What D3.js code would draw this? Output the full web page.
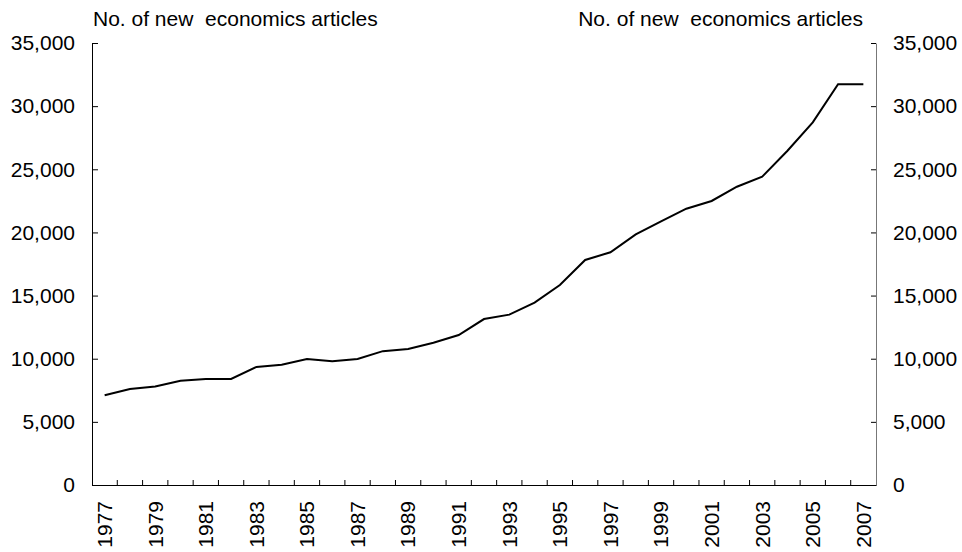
<!DOCTYPE html>
<html>
<head>
<meta charset="utf-8">
<script src="https://cdn.jsdelivr.net/npm/d3@7"></script>
<style>
  body { margin: 0; background: #fff; }
  text { font-family: "Liberation Sans", Arial, sans-serif; }
</style>
</head>
<body>
<div id="chart"></div>
<script>
var width = 962, height = 552;
var margin = {top: 43, right: 86, bottom: 67, left: 92};
var fontSize = "21px";

var years = d3.range(1977, 2008);
var articles = [7100, 7600, 7800, 8250, 8400, 8400, 9350, 9530, 9980, 9790,
                9980, 10600, 10770, 11270, 11880, 13140, 13490, 14440, 15840, 17820,
                18430, 19850, 20880, 21880, 22490, 23620, 24410, 26470, 28720, 31730,
                31730];
var yTicks = [0, 5000, 10000, 15000, 20000, 25000, 30000, 35000];
var axisTitle = "No. of new  economics articles";

var data = years.map(function(y, i){ return {year: y, value: articles[i]}; });

var svg = d3.select("#chart").append("svg")
  .attr("width", width)
  .attr("height", height);

var x = d3.scaleBand()
  .domain(years)
  .range([margin.left, width - margin.right]);

var y = d3.scaleLinear()
  .domain([0, 35000])
  .range([height - margin.bottom, margin.top]);

var fmt = d3.format(",");

// left axis, ticks point inward
var yLeft = svg.append("g")
  .attr("transform", "translate(" + margin.left + ",0)")
  .call(d3.axisLeft(y).tickValues(yTicks).tickFormat(fmt)
    .tickSizeInner(-6).tickSizeOuter(0).tickPadding(17));

// right axis
var yRight = svg.append("g")
  .attr("transform", "translate(" + (width - margin.right) + ",0)")
  .call(d3.axisRight(y).tickValues(yTicks).tickFormat(fmt)
    .tickSizeInner(-5).tickSizeOuter(0).tickPadding(17));
yRight.select(".domain").attr("stroke", "#777");

[yLeft, yRight].forEach(function(g){
  g.selectAll("text").attr("font-size", fontSize).attr("fill", "#000")
    .attr("font-family", "Liberation Sans, Arial, sans-serif");
});

// bottom axis: labels every other year
var xAxis = svg.append("g")
  .attr("transform", "translate(0," + (height - margin.bottom) + ")")
  .call(d3.axisBottom(x)
    .tickValues(years.filter(function(d){ return (d - 1977) % 2 == 0; }))
    .tickSize(0).tickPadding(0));

xAxis.selectAll("text")
  .attr("font-size", fontSize)
  .attr("fill", "#000")
  .attr("font-family", "Liberation Sans, Arial, sans-serif")
  .attr("text-anchor", "end")
  .attr("transform", "rotate(-90)")
  .attr("x", -16)
  .attr("y", 0)
  .attr("dy", "0.35em");

// tick marks between categories
xAxis.selectAll(".between")
  .data(years.slice(1))
  .enter()
  .append("line")
  .attr("class", "between")
  .attr("x1", function(d){ return x(d); })
  .attr("x2", function(d){ return x(d); })
  .attr("y1", 0)
  .attr("y2", -5)
  .attr("stroke", "#000");

var line = d3.line()
  .x(function(d){ return x(d.year) + x.bandwidth() / 2; })
  .y(function(d){ return y(d.value); });

svg.append("path")
  .datum(data)
  .attr("fill", "none")
  .attr("stroke", "#000")
  .attr("stroke-width", 2)
  .attr("d", line);

// axis titles
svg.append("text")
  .attr("x", margin.left + 1)
  .attr("y", 26)
  .attr("font-size", fontSize)
  .attr("fill", "#000")
  .style("white-space", "pre")
  .text(axisTitle);

svg.append("text")
  .attr("x", width - margin.right - 13)
  .attr("y", 26)
  .attr("text-anchor", "end")
  .attr("font-size", fontSize)
  .attr("fill", "#000")
  .style("white-space", "pre")
  .text(axisTitle);
</script>
</body>
</html>
